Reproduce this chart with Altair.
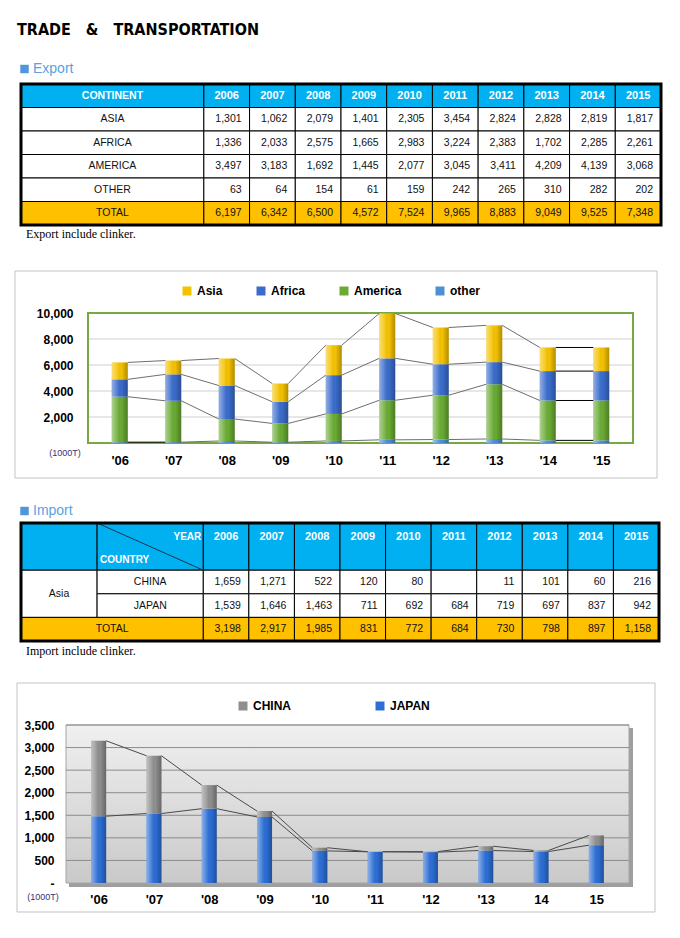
import json
import altair as alt
import pandas as pd

# ---------------- table values ----------------
years = ["2006", "2007", "2008", "2009", "2010", "2011", "2012", "2013", "2014", "2015"]
continents = ["ASIA", "AFRICA", "AMERICA", "OTHER"]
exp_asia = [1301, 1062, 2079, 1401, 2305, 3454, 2824, 2828, 2819, 1817]
exp_africa = [1336, 2033, 2575, 1665, 2983, 3224, 2383, 1702, 2285, 2261]
exp_america = [3497, 3183, 1692, 1445, 2077, 3045, 3411, 4209, 4139, 3068]
exp_other = [63, 64, 154, 61, 159, 242, 265, 310, 282, 202]
exp_total = [6197, 6342, 6500, 4572, 7524, 9965, 8883, 9049, 9525, 7348]

imp_region = "Asia"
imp_countries = ["CHINA", "JAPAN"]
imp_china = [1659, 1271, 522, 120, 80, None, 11, 101, 60, 216]
imp_japan = [1539, 1646, 1463, 711, 692, 684, 719, 697, 837, 942]
imp_total = [3198, 2917, 1985, 831, 772, 684, 730, 798, 897, 1158]

# ---------------- chart values (as drawn in the charts) ----------------
exp_legend = ["Asia", "Africa", "America", "other"]
exp_ticks = ["'06", "'07", "'08", "'09", "'10", "'11", "'12", "'13", "'14", "'15"]
chart_exp_asia = [1301, 1062, 2079, 1401, 2305, 3454, 2824, 2828, 1817, 1817]
chart_exp_africa = [1336, 2033, 2575, 1665, 2983, 3224, 2383, 1702, 2261, 2261]
chart_exp_america = [3497, 3183, 1692, 1445, 2077, 3045, 3411, 4209, 3068, 3068]
chart_exp_other = [63, 64, 154, 61, 159, 242, 265, 310, 202, 202]
exp_yticks = [2000, 4000, 6000, 8000, 10000]

imp_legend = ["CHINA", "JAPAN"]
imp_ticks = ["'06", "'07", "'08", "'09", "'10", "'11", "'12", "'13", "14", "15"]
chart_imp_china = [1670, 1280, 522, 130, 70, 0, 11, 95, 25, 216]
chart_imp_japan = [1480, 1539, 1646, 1463, 711, 692, 684, 719, 697, 837]
imp_yticks = [0, 500, 1000, 1500, 2000, 2500, 3000, 3500]

# ---------------- styling ----------------
W = 664
SANS = "Liberation Sans, Arial, Helvetica, sans-serif"
SERIF = "Liberation Serif, Times New Roman, serif"
TITLE_FONT = "Liberation Sans Narrow, DejaVu Sans Condensed, Liberation Sans, sans-serif"
CYAN = "#00b0f0"
ORANGE = "#ffc000"
ONE = alt.Data(values=[{"k": 1}])

SHADE = alt.Gradient(
    gradient="linear",
    stops=[
        alt.GradientStop(color="rgba(255,255,255,0.45)", offset=0),
        alt.GradientStop(color="rgba(255,255,255,0.12)", offset=0.35),
        alt.GradientStop(color="rgba(0,0,0,0.0)", offset=0.6),
        alt.GradientStop(color="rgba(0,0,0,0.28)", offset=1),
    ],
    x1=0, x2=1, y1=0, y2=0,
)


def fmt(v):
    return "" if v is None else f"{v:,}"


def label_section(text, height, yc, title=None):
    layers = []
    if title:
        layers.append(
            alt.Chart(ONE).mark_text(
                text=title, align="left", baseline="middle", font=TITLE_FONT,
                fontSize=16, fontWeight="bold", color="black",
            ).encode(x=alt.value(9), y=alt.value(22))
        )
    layers.append(
        alt.Chart(ONE).mark_square(size=72, color="#4f97da", opacity=1).encode(
            x=alt.value(16.5), y=alt.value(yc)
        )
    )
    layers.append(
        alt.Chart(ONE).mark_text(
            text=text, align="left", baseline="middle", font=SANS, fontSize=14, color="#5aa2e2"
        ).encode(x=alt.value(25), y=alt.value(yc))
    )
    return alt.layer(*layers).properties(width=W, height=height)


TEXT_STYLES = {
    "head": dict(align="center", color="white", fontWeight="bold", fontSize=11),
    "headc": dict(align="center", color="white", fontWeight="bold", fontSize=10.5),
    "headr": dict(align="right", dx=-2, color="white", fontWeight="bold", fontSize=10),
    "headl": dict(align="left", dx=3, color="white", fontWeight="bold", fontSize=10),
    "name": dict(align="center", color="#111111", fontSize=10.5),
    "num": dict(align="right", dx=-8, color="#111111", fontSize=10.5),
}


def table_chart(cells, texts, xdom, xrange, ydom, yrange, height, note, note_y, extra=None):
    xs = alt.Scale(domain=xdom, range=xrange, nice=False, zero=False)
    ys = alt.Scale(domain=ydom, range=yrange, nice=False, zero=False)
    cdf = pd.DataFrame(cells)
    tdf = pd.DataFrame(texts)
    rects = alt.Chart(cdf).mark_rect(stroke="black", strokeWidth=1).encode(
        x=alt.X("x0:Q", scale=xs, axis=None),
        x2="x1:Q",
        y=alt.Y("y0:Q", scale=ys, axis=None),
        y2="y1:Q",
        fill=alt.Fill("role:N", scale=alt.Scale(domain=["head", "body", "total"], range=[CYAN, "white", ORANGE]), legend=None),
    )
    layers = [rects]
    if extra is not None:
        layers.append(extra(xs, ys))
    for kind, style in TEXT_STYLES.items():
        if kind not in set(tdf["kind"]):
            continue
        layers.append(
            alt.Chart(tdf).transform_filter(alt.datum.kind == kind).mark_text(
                baseline="middle", font=SANS, **style
            ).encode(
                x=alt.X("tx:Q", scale=xs, axis=None),
                y=alt.Y("ty:Q", scale=ys, axis=None),
                text="label:N",
            )
        )
    outer = alt.Chart(alt.Data(values=[{"a0": xdom[0], "a1": xdom[1], "b0": ydom[0], "b1": ydom[1]}])).mark_rect(
        fillOpacity=0, stroke="black", strokeWidth=3
    ).encode(
        x=alt.X("a0:Q", scale=xs, axis=None), x2="a1:Q",
        y=alt.Y("b0:Q", scale=ys, axis=None), y2="b1:Q",
    )
    layers.append(outer)
    layers.append(
        alt.Chart(ONE).mark_text(text=note, align="left", baseline="middle", font=SERIF, fontSize=12, color="black").encode(
            x=alt.value(18), y=alt.value(note_y)
        )
    )
    return alt.layer(*layers).properties(width=W, height=height)


def text_row(texts, x0, x1, y0, y1, label, kind, ty=None):
    if kind in ("num", "headr"):
        tx = x1
    elif kind == "headl":
        tx = x0
    else:
        tx = (x0 + x1) / 2
    texts.append(dict(tx=tx, ty=(y0 + y1) / 2 if ty is None else ty, label=label, kind=kind))


def export_table():
    cells, texts = [], []
    lead = 4
    cells.append(dict(x0=0, x1=lead, y0=0, y1=1, role="head"))
    text_row(texts, 0, lead, 0, 1, "CONTINENT", "headc")
    for j, yr in enumerate(years):
        cells.append(dict(x0=lead + j, x1=lead + j + 1, y0=0, y1=1, role="head"))
        text_row(texts, lead + j, lead + j + 1, 0, 1, yr, "head")
    series = [exp_asia, exp_africa, exp_america, exp_other]
    for r, (name, vals) in enumerate(zip(continents, series), start=1):
        cells.append(dict(x0=0, x1=lead, y0=r, y1=r + 1, role="body"))
        text_row(texts, 0, lead, r, r + 1, name, "name")
        for j, v in enumerate(vals):
            cells.append(dict(x0=lead + j, x1=lead + j + 1, y0=r, y1=r + 1, role="body"))
            text_row(texts, lead + j, lead + j + 1, r, r + 1, fmt(v), "num")
    r = len(continents) + 1
    cells.append(dict(x0=0, x1=lead, y0=r, y1=r + 1, role="total"))
    text_row(texts, 0, lead, r, r + 1, "TOTAL", "name")
    for j, v in enumerate(exp_total):
        cells.append(dict(x0=lead + j, x1=lead + j + 1, y0=r, y1=r + 1, role="total"))
        text_row(texts, lead + j, lead + j + 1, r, r + 1, fmt(v), "num")
    ncols = lead + len(years)
    return table_chart(cells, texts, [0, ncols], [13, 653], [0, r + 1], [4, 145], 186,
                       "Export include clinker.", 154)


def import_table():
    cells, texts = [], []
    c1, lead = 1.67, 4
    cells.append(dict(x0=0, x1=c1, y0=0, y1=2, role="head"))
    cells.append(dict(x0=c1, x1=lead, y0=0, y1=2, role="head"))
    text_row(texts, c1, lead, 0, 2, "YEAR", "headr", ty=0.6)
    text_row(texts, c1, lead, 0, 2, "COUNTRY", "headl", ty=1.55)
    for j, yr in enumerate(years):
        cells.append(dict(x0=lead + j, x1=lead + j + 1, y0=0, y1=2, role="head"))
        text_row(texts, lead + j, lead + j + 1, 0, 2, yr, "head", ty=0.6)
    cells.append(dict(x0=0, x1=c1, y0=2, y1=4, role="body"))
    text_row(texts, 0, c1, 2, 4, imp_region, "name")
    for r, (name, vals) in enumerate(zip(imp_countries, [imp_china, imp_japan]), start=2):
        cells.append(dict(x0=c1, x1=lead, y0=r, y1=r + 1, role="body"))
        text_row(texts, c1, lead, r, r + 1, name, "name")
        for j, v in enumerate(vals):
            cells.append(dict(x0=lead + j, x1=lead + j + 1, y0=r, y1=r + 1, role="body"))
            text_row(texts, lead + j, lead + j + 1, r, r + 1, fmt(v), "num")
    r = 4
    cells.append(dict(x0=0, x1=lead, y0=r, y1=r + 1, role="total"))
    text_row(texts, 0, lead, r, r + 1, "TOTAL", "name")
    for j, v in enumerate(imp_total):
        cells.append(dict(x0=lead + j, x1=lead + j + 1, y0=r, y1=r + 1, role="total"))
        text_row(texts, lead + j, lead + j + 1, r, r + 1, fmt(v), "num")
    ncols = lead + len(years)

    def diag(xs, ys):
        return alt.Chart(alt.Data(values=[{"p0": c1, "p1": lead, "q0": 0, "q1": 2}])).mark_rule(
            color="#1b3550", strokeWidth=1
        ).encode(
            x=alt.X("p0:Q", scale=xs, axis=None), x2="p1:Q",
            y=alt.Y("q0:Q", scale=ys, axis=None), y2="q1:Q",
        )

    return table_chart(cells, texts, [0, ncols], [13, 651], [0, 5], [4, 122], 160,
                       "Import include clinker.", 132, extra=diag)


def stack_frames(names, series_list):
    n = len(series_list[0])
    bars, tops = [], {}
    for i in range(n):
        cum = 0
        for name, series in zip(names, series_list):
            v = series[i]
            bars.append(dict(i=i, series=name, y0=cum, y1=cum + v))
            cum += v
            tops[(name, i)] = cum
    conns = []
    for name in names:
        for i in range(n - 1):
            conns.append(dict(i=i, i2=i + 1, series=name, c0=tops[(name, i)], c1=tops[(name, i + 1)]))
    return pd.DataFrame(bars), pd.DataFrame(conns)


def label_expr(ticks):
    return "[" + ",".join(json.dumps(t) for t in ticks) + "][datum.value]"


def export_chart():
    H = 232
    X0, X1, Y0, Y1 = 80, 625, 47, 177
    n = len(exp_ticks)
    xs = alt.Scale(domain=[-0.5, n - 0.5], range=[X0, X1], nice=False, zero=False)
    ys = alt.Scale(domain=[0, 10000], range=[Y1, Y0], nice=False, zero=False)
    xaxis = alt.Axis(
        values=list(range(n)), labelExpr=label_expr(exp_ticks), orient="bottom", offset=Y1 - H,
        ticks=False, domain=False, grid=False, labelFont=SANS, labelFontSize=13, labelFontWeight="bold",
        labelColor="black", labelPadding=11, labelFlush=False, title=None, zindex=1,
    )
    yaxis = alt.Axis(
        values=exp_yticks, labelExpr="format(datum.value, ',')", orient="left", offset=-X0, ticks=False,
        domain=False, grid=False, labelFont=SANS, labelFontSize=12, labelFontWeight="bold",
        labelColor="black", labelPadding=15, labelFlush=False, title=None, zindex=1,
    )
    X = lambda f: alt.X(f, scale=xs, axis=xaxis)
    Y = lambda f: alt.Y(f, scale=ys, axis=yaxis)
    bars, conns = stack_frames(
        ["other", "America", "Africa", "Asia"],
        [chart_exp_other, chart_exp_america, chart_exp_africa, chart_exp_asia],
    )
    frame = alt.Chart(ONE).mark_rect(fill="white", stroke="#c3c3c3", strokeWidth=1).encode(
        x=alt.value(7), x2=alt.value(649), y=alt.value(5), y2=alt.value(212)
    )
    grid = alt.Chart(pd.DataFrame({"v": exp_yticks[:-1]})).mark_rule(color="#cfcfcf", strokeWidth=1).encode(
        x=alt.value(X0), x2=alt.value(X1), y=Y("v:Q")
    )
    barl = alt.Chart(bars).mark_bar(size=16).encode(
        x=X("i:Q"),
        y=Y("y0:Q"),
        y2="y1:Q",
        color=alt.Color(
            "series:N",
            scale=alt.Scale(domain=exp_legend, range=["#f5c200", "#3a6ccc", "#6aab33", "#4d8fd2"]),
            legend=alt.Legend(
                orient="none", legendX=173, legendY=19, direction="horizontal", title=None,
                symbolType="square", symbolSize=81, symbolStrokeWidth=0, labelFont=SANS,
                labelFontSize=12, labelFontWeight="bold", labelColor="black", columnPadding=32,
                labelOffset=4, zindex=1,
            ),
        ),
    )
    shade = alt.Chart(bars).mark_bar(size=16, color=SHADE).encode(x=X("i:Q"), y=Y("y0:Q"), y2="y1:Q")
    border = alt.Chart(ONE).mark_rect(fillOpacity=0, stroke="#77a843", strokeWidth=2).encode(
        x=alt.value(X0), x2=alt.value(X1), y=alt.value(Y0), y2=alt.value(Y1)
    )
    rules = alt.Chart(conns).mark_rule(xOffset=8, x2Offset=-8, strokeWidth=1).encode(
        x=X("i:Q"), x2="i2:Q",
        y=Y("c0:Q"), y2="c1:Q",
        color=alt.condition(
            (alt.datum.i == 8) | ((alt.datum.i == 0) & (alt.datum.series == "other")),
            alt.value("#000000"), alt.value("#6e6e6e"),
        ),
    )
    unit = alt.Chart(ONE).mark_text(text="(1000T)", font=SANS, fontSize=9, color="#33337a").encode(
        x=alt.value(57), y=alt.value(187)
    )
    return alt.layer(frame, grid, border, barl, shade, rules, unit).properties(width=W, height=H)


def import_chart():
    H = 251
    X0, X1, Y0, Y1 = 58, 621, 46, 204
    n = len(imp_ticks)
    xs = alt.Scale(domain=[-0.5, n - 0.5], range=[X0, X1], nice=False, zero=False)
    ys = alt.Scale(domain=[0, 3500], range=[Y1, Y0], nice=False, zero=False)
    xaxis = alt.Axis(
        values=list(range(n)), labelExpr=label_expr(imp_ticks), orient="bottom", offset=Y1 - H,
        ticks=False, domain=False, grid=False, labelFont=SANS, labelFontSize=13, labelFontWeight="bold",
        labelColor="black", labelPadding=10, labelFlush=False, title=None, zindex=1,
    )
    yaxis = alt.Axis(
        values=imp_yticks, labelExpr="datum.value == 0 ? '-' : format(datum.value, ',')", orient="left",
        offset=-X0, ticks=False, domain=False, grid=False, labelFont=SANS, labelFontSize=12,
        labelFontWeight="bold", labelColor="black", labelPadding=12, labelFlush=False, title=None, zindex=1,
    )
    X = lambda f: alt.X(f, scale=xs, axis=xaxis)
    Y = lambda f: alt.Y(f, scale=ys, axis=yaxis)
    bars, conns = stack_frames(["JAPAN", "CHINA"], [chart_imp_japan, chart_imp_china])
    frame = alt.Chart(ONE).mark_rect(fill="white", stroke="#c3c3c3", strokeWidth=1).encode(
        x=alt.value(9), x2=alt.value(647), y=alt.value(4), y2=alt.value(233)
    )
    shadow = alt.Chart(ONE).mark_rect(fill="#8d8d8d", opacity=0.85).encode(
        x=alt.value(X0 + 3), x2=alt.value(X1 + 4), y=alt.value(Y0 + 3), y2=alt.value(Y1 + 4)
    )
    bg = alt.Chart(ONE).mark_rect(
        fill=alt.Gradient(
            gradient="linear",
            stops=[alt.GradientStop(color="#f0f0f0", offset=0), alt.GradientStop(color="#c9c9c9", offset=1)],
            x1=0, x2=0, y1=0, y2=1,
        ),
        stroke="#a5a5a5", strokeWidth=1,
    ).encode(x=alt.value(X0), x2=alt.value(X1), y=alt.value(Y0), y2=alt.value(Y1))
    grid = alt.Chart(pd.DataFrame({"v": imp_yticks[1:]})).mark_rule(color="#8c8c8c", strokeWidth=1).encode(
        x=alt.value(X0), x2=alt.value(X1), y=Y("v:Q")
    )
    barl = alt.Chart(bars).mark_bar(size=15).encode(
        x=X("i:Q"),
        y=Y("y0:Q"),
        y2="y1:Q",
        color=alt.Color(
            "series:N",
            scale=alt.Scale(domain=imp_legend, range=["#8f8f8f", "#2c6ed5"]),
            legend=alt.Legend(
                orient="none", legendX=229, legendY=21, direction="horizontal", title=None,
                symbolType="square", symbolSize=81, symbolStrokeWidth=0, labelFont=SANS,
                labelFontSize=12, labelFontWeight="bold", labelColor="black", columnPadding=83,
                labelOffset=4, zindex=1,
            ),
        ),
    )
    shade = alt.Chart(bars).mark_bar(size=15, color=SHADE).encode(x=X("i:Q"), y=Y("y0:Q"), y2="y1:Q")
    rules = alt.Chart(conns).mark_rule(xOffset=7.5, x2Offset=-7.5, strokeWidth=1, color="#4a4a4a").encode(
        x=X("i:Q"), x2="i2:Q",
        y=Y("c0:Q"), y2="c1:Q",
    )
    unit = alt.Chart(ONE).mark_text(text="(1000T)", font=SANS, fontSize=9, color="#33337a").encode(
        x=alt.value(35), y=alt.value(218)
    )
    return alt.layer(frame, shadow, bg, grid, barl, shade, rules, unit).properties(width=W, height=H)


TITLE = "TRADE\u00a0\u00a0\u00a0&\u00a0\u00a0\u00a0TRANSPORTATION"

chart = alt.vconcat(
    label_section("Export", 72, 61, title=TITLE),
    export_table(),
    export_chart(),
    label_section("Import", 21, 13),
    import_table(),
    import_chart(),
    spacing=0,
).resolve_scale(
    x="independent", y="independent", color="independent", fill="independent"
).resolve_legend(color="independent").properties(padding=0, background="white").configure_view(strokeWidth=0)

chart.save("out.html", embed_options={"renderer": "svg", "actions": False})
